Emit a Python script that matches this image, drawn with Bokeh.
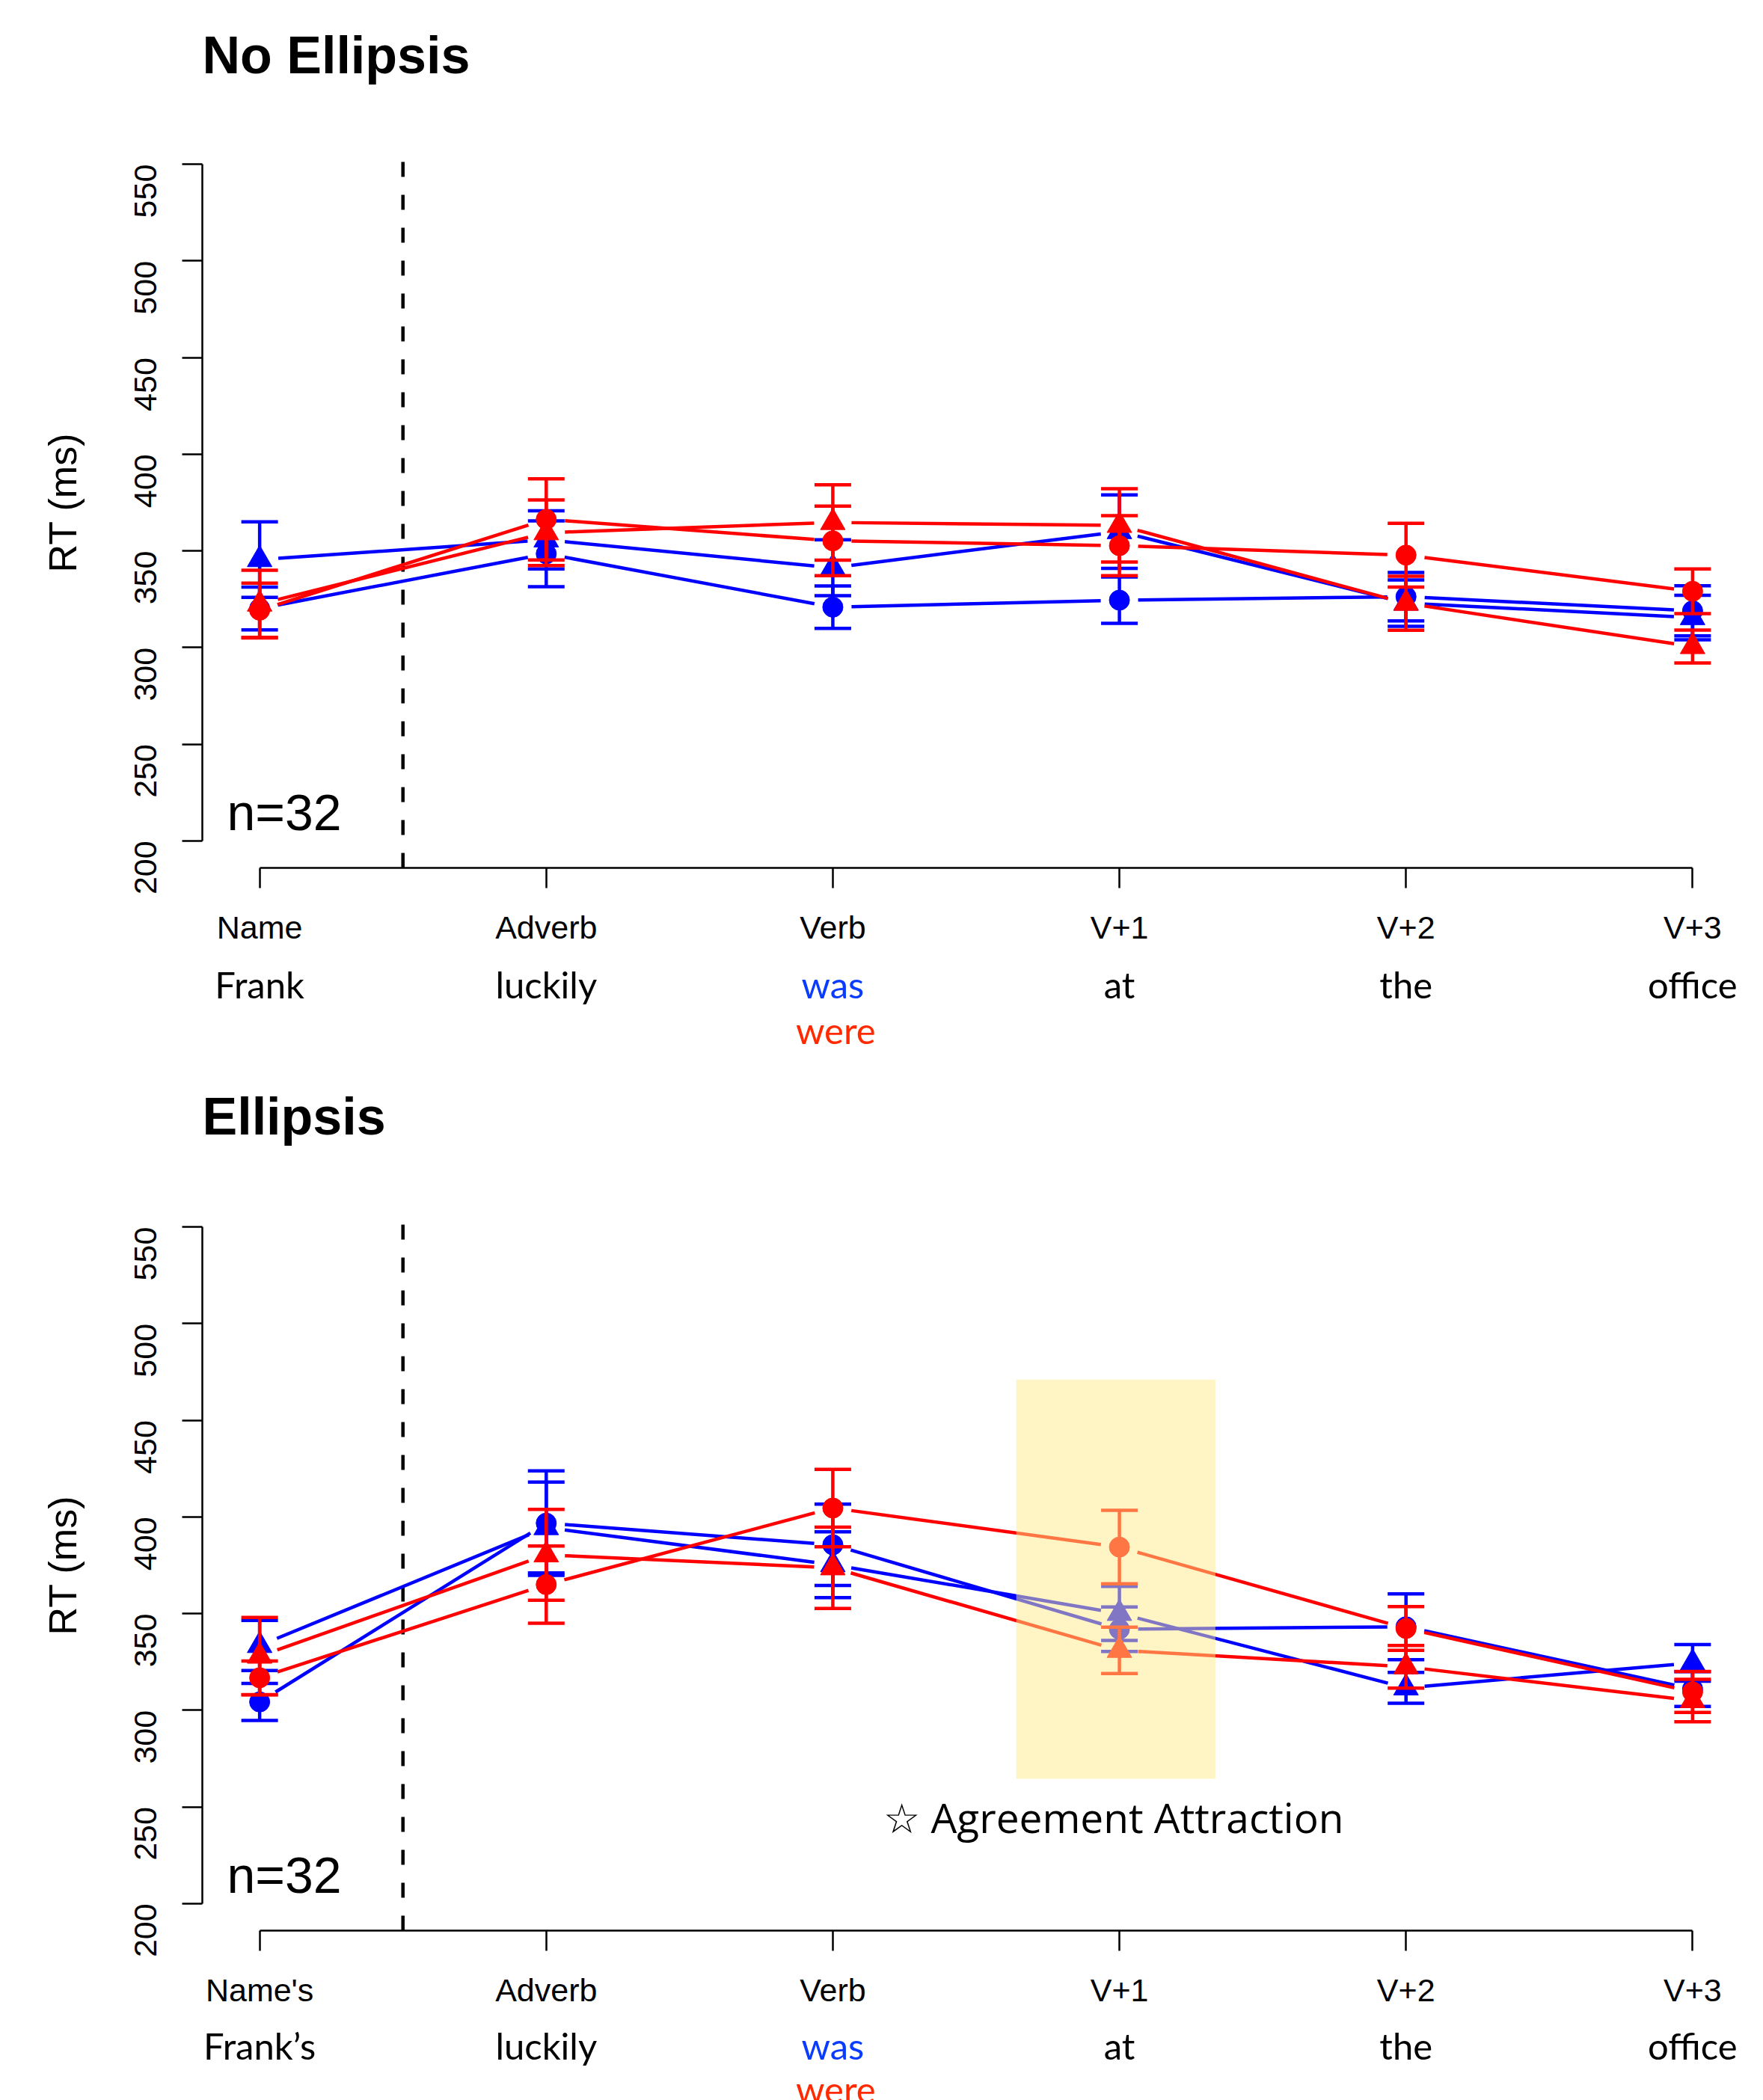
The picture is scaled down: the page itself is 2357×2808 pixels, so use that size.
import math
from bokeh.plotting import figure
from bokeh.models import Range1d, FixedTicker
from bokeh.layouts import column
from bokeh.embed import file_html
from bokeh.resources import INLINE
from bokeh.core.properties import value

# ---------------- data ----------------
positions = [1, 2, 3, 4, 5, 6]
regions_no_ellipsis = ["Name", "Adverb", "Verb", "V+1", "V+2", "V+3"]
regions_ellipsis = ["Name's", "Adverb", "Verb", "V+1", "V+2", "V+3"]
words_no_ellipsis = ["Frank", "luckily", "", "at", "the", "office"]
words_ellipsis = ["Frank\u2019s", "luckily", "", "at", "the", "office"]
verb_singular = "was"
verb_plural = "were"
y_ticks = [200, 250, 300, 350, 400, 450, 500, 550]
title_no_ellipsis = "No Ellipsis"
title_ellipsis = "Ellipsis"
n_label = "n=32"
note_text = "\u2606 Agreement Attraction"

# No Ellipsis: mean RT and standard error per region
ne_was_circle = [320.2, 348.5, 320.9, 324.5, 326.3, 319.0]
ne_was_circle_se = [11.1, 17.0, 11.0, 12.0, 12.5, 13.0]
ne_was_triangle = [345.5, 355.7, 341.3, 360.0, 323.0, 315.5]
ne_was_triangle_se = [19.5, 15.0, 14.5, 19.0, 12.0, 11.5]
ne_were_circle = [319.3, 366.3, 355.2, 352.7, 347.8, 329.1]
ne_were_circle_se = [14.0, 21.0, 18.0, 15.5, 16.5, 11.6]
ne_were_triangle = [322.5, 359.4, 364.7, 363.2, 322.9, 300.5]
ne_were_triangle_se = [17.5, 17.0, 19.5, 19.0, 14.0, 8.5]

# Ellipsis
el_was_circle = [304.3, 396.8, 385.6, 341.9, 343.2, 311.0]
el_was_circle_se = [9.6, 27.0, 21.0, 11.5, 17.0, 9.0]
el_was_triangle = [333.5, 394.5, 375.3, 350.1, 311.6, 324.5]
el_was_triangle_se = [13.0, 23.5, 17.0, 14.0, 8.0, 9.5]
el_were_circle = [316.8, 365.0, 404.6, 384.4, 342.3, 309.5]
el_were_circle_se = [8.7, 20.0, 20.0, 19.0, 11.3, 10.6]
el_were_triangle = [328.0, 380.4, 373.7, 331.0, 322.5, 305.0]
el_were_triangle_se = [20.0, 23.5, 21.0, 12.0, 11.0, 11.0]

# ---------------- styling / layout ----------------
BLUE = "#0000FF"
RED = "#FF0000"
WAS_COLOR = "#0A3CFF"
WERE_COLOR = "#FF2A00"
X_START, X_END = 0.8, 6.2
Y_START, Y_END = 186, 564
FRAME_W, FRAME_H = 2069, 977
BORDER_L, BORDER_R = 270, 9
PX_PER_X = FRAME_W / (X_END - X_START)
PX_PER_Y = FRAME_H / (Y_END - Y_START)
LINE_GAP_PX = 25          # R type="b": lines stop short of the points
divider_x = 1.5
divider_top = 555
highlight_x = (3.64, 4.335)
highlight_y = (264.5, 471)
note_pos = (3.98, 245)
n_pos = (0.886, 215)
HELV = "Liberation Sans"
GILL = "Lato"


def blank_figure(height):
    f = figure(frame_width=FRAME_W, frame_height=height,
               x_range=Range1d(X_START, X_END), y_range=Range1d(0, height),
               x_axis_type=None, y_axis_type=None,
               output_backend="svg", toolbar_location=None,
               min_border_left=BORDER_L, min_border_right=BORDER_R,
               min_border_top=0, min_border_bottom=0)
    f.outline_line_color = None
    f.grid.visible = False
    return f


def make_title(text, height, baseline_y):
    t = blank_figure(height)
    t.text(x=[X_START], y=[baseline_y], text=[text], text_font=value(HELV), text_font_size="70px",
           text_font_style="bold", text_align="left", text_baseline="alphabetic", text_color="black")
    return t


def gapped_segments(xs, ys):
    x0, y0, x1, y1 = [], [], [], []
    for xa, ya, xb, yb in zip(xs[:-1], ys[:-1], xs[1:], ys[1:]):
        length = math.hypot((xb - xa) * PX_PER_X, (yb - ya) * PX_PER_Y)
        f = LINE_GAP_PX / length
        x0.append(xa + (xb - xa) * f)
        y0.append(ya + (yb - ya) * f)
        x1.append(xb - (xb - xa) * f)
        y1.append(yb - (yb - ya) * f)
    return x0, y0, x1, y1


def make_panel(regions, series, bottom_border, highlight=False):
    p = figure(frame_width=FRAME_W, frame_height=FRAME_H,
               x_range=Range1d(X_START, X_END), y_range=Range1d(Y_START, Y_END),
               output_backend="svg", toolbar_location=None,
               min_border_left=BORDER_L, min_border_right=BORDER_R,
               min_border_top=0, min_border_bottom=bottom_border)
    p.outline_line_color = None
    p.grid.visible = False

    xa = p.xaxis[0]
    xa.ticker = FixedTicker(ticks=positions)
    xa.major_label_overrides = {pos: lab for pos, lab in zip(positions, regions)}
    xa.bounds = (positions[0], positions[-1])
    xa.axis_line_width = 2.5
    xa.axis_line_color = "black"
    xa.major_tick_line_width = 2.5
    xa.major_tick_line_color = "black"
    xa.major_tick_out = 27
    xa.major_tick_in = 0
    xa.minor_tick_line_color = None
    xa.major_label_text_font = HELV
    xa.major_label_text_font_size = "43px"
    xa.major_label_text_color = "black"
    xa.major_label_standoff = 28

    ya = p.yaxis[0]
    ya.ticker = FixedTicker(ticks=y_ticks)
    ya.bounds = (y_ticks[0], y_ticks[-1])
    ya.axis_line_width = 2.5
    ya.axis_line_color = "black"
    ya.major_tick_line_width = 2.5
    ya.major_tick_line_color = "black"
    ya.major_tick_out = 27
    ya.major_tick_in = 0
    ya.minor_tick_line_color = None
    ya.major_label_orientation = math.pi / 2
    ya.major_label_text_font = HELV
    ya.major_label_text_font_size = "43px"
    ya.major_label_text_color = "black"
    ya.major_label_standoff = 49
    ya.axis_label = "RT (ms)"
    ya.axis_label_text_font = HELV
    ya.axis_label_text_font_style = "normal"
    ya.axis_label_text_font_size = "52px"
    ya.axis_label_text_color = "black"
    ya.axis_label_standoff = 50

    # dashed divider between the name and the following regions
    p.segment(x0=[divider_x], y0=[Y_START], x1=[divider_x], y1=[divider_top],
              line_color="black", line_width=4.5, line_dash="20 24")

    for means, se, color, marker, size in series:
        lo = [m - s for m, s in zip(means, se)]
        hi = [m + s for m, s in zip(means, se)]
        x0, y0, x1, y1 = gapped_segments(positions, means)
        p.segment(x0=x0, y0=y0, x1=x1, y1=y1, line_color=color, line_width=4.5)
        p.segment(x0=positions, y0=lo, x1=positions, y1=hi, line_color=color, line_width=4.5)
        p.scatter(positions, hi, marker="dash", size=49, line_color=color, line_width=4.5)
        p.scatter(positions, lo, marker="dash", size=49, line_color=color, line_width=4.5)
        p.scatter(positions, means, marker=marker, size=size, fill_color=color, line_color=color, line_width=1)

    if highlight:
        p.quad(left=[highlight_x[0]], right=[highlight_x[1]], bottom=[highlight_y[0]], top=[highlight_y[1]],
               fill_color=(255, 235, 137), fill_alpha=0.5, line_color=None)
        p.text(x=[note_pos[0]], y=[note_pos[1]], text=[note_text], text_font=value("Open Sans"),
               text_font_size="55px", text_align="center", text_baseline="alphabetic", text_color="black")

    p.text(x=[n_pos[0]], y=[n_pos[1]], text=[n_label], text_font=value(HELV),
           text_font_size="68px", text_align="left", text_baseline="alphabetic", text_color="black")
    return p


def make_words(words, height, row_y, plural_y):
    w = blank_figure(height)
    xs = [pos for pos, t in zip(positions, words) if t]
    ts = [t for t in words if t]
    w.text(x=xs, y=[row_y] * len(xs), text=ts, text_font=value(GILL), text_font_size="49px",
           text_align="center", text_baseline="alphabetic", text_color="black")
    w.text(x=[positions[2]], y=[row_y], text=[verb_singular], text_font=value(GILL), text_font_size="49px",
           text_align="center", text_baseline="alphabetic", text_color=WAS_COLOR)
    w.text(x=[positions[2] + 0.01], y=[plural_y], text=[verb_plural], text_font=value(GILL),
           text_font_size="49px", text_align="center", text_baseline="alphabetic", text_color=WERE_COLOR)
    return w


top_title = make_title(title_no_ellipsis, 183, 110)
top = make_panel(regions_no_ellipsis,
                 [(ne_was_circle, ne_was_circle_se, BLUE, "circle", 27),
                  (ne_was_triangle, ne_was_triangle_se, BLUE, "triangle", 33),
                  (ne_were_circle, ne_were_circle_se, RED, "circle", 27),
                  (ne_were_triangle, ne_were_triangle_se, RED, "triangle", 33)],
                 bottom_border=112)
top_words = make_words(words_no_ellipsis, 160, 117, 56)
bottom_title = make_title(title_ellipsis, 172, 112)
bottom = make_panel(regions_ellipsis,
                    [(el_was_circle, el_was_circle_se, BLUE, "circle", 27),
                     (el_was_triangle, el_was_triangle_se, BLUE, "triangle", 33),
                     (el_were_circle, el_were_circle_se, RED, "circle", 27),
                     (el_were_triangle, el_were_triangle_se, RED, "triangle", 33)],
                    bottom_border=112, highlight=True)
bottom_words = make_words(words_ellipsis, 115, 74, 16)

layout = column(top_title, top, top_words, bottom_title, bottom, bottom_words)
open("out.html", "w").write(file_html(layout, INLINE))
